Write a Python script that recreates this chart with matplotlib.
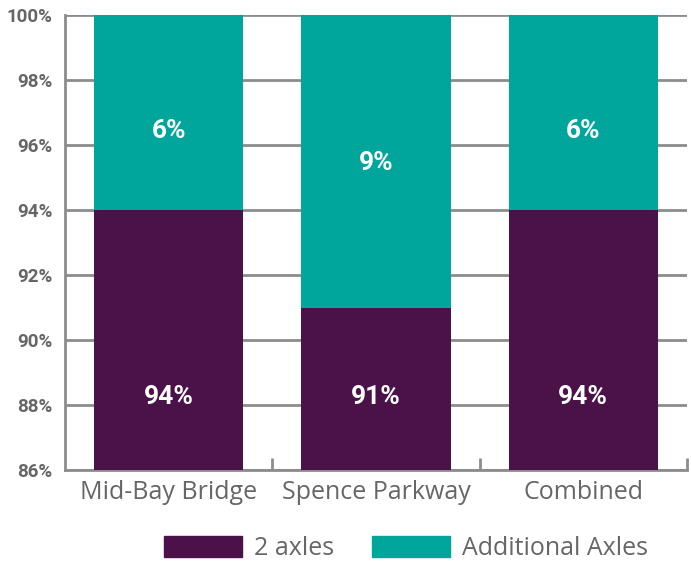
import matplotlib.pyplot as plt
from matplotlib.patches import Patch

categories = ["Mid-Bay Bridge", "Spence Parkway", "Combined"]
two_axles = [94, 91, 94]
additional_axles = [6, 9, 6]
y_ticks = [86, 88, 90, 92, 94, 96, 98, 100]

purple = "#4a1248"
teal = "#00a59b"
grey = "#8c8c8c"
label_grey = "#666666"
bold_font = ["Roboto", "DejaVu Sans"]

# where the value labels sit inside each segment
bottom_label_y = [88.25, 88.25, 88.25]
top_label_y = [96.45, 95.45, 96.45]

fig = plt.figure(figsize=(6.91, 5.61), dpi=100)
ax = fig.add_axes([0.094, 0.162, 0.9, 0.811])

x = range(len(categories))
ax.bar(x, two_axles, width=0.72, color=purple, zorder=3)
ax.bar(x, additional_axles, width=0.72, bottom=two_axles, color=teal, zorder=3)

for i in x:
    ax.text(i, bottom_label_y[i], f"{two_axles[i]}%", ha="center", va="center",
            color="white", fontsize=19, fontweight="bold", family=bold_font, zorder=4)
    ax.text(i, top_label_y[i], f"{additional_axles[i]}%", ha="center", va="center",
            color="white", fontsize=19, fontweight="bold", family=bold_font, zorder=4)

ax.set_ylim(86, 100)
ax.set_xlim(-0.5, 2.5)
ax.set_yticks(y_ticks)
ax.set_yticklabels([f"{v}%" for v in y_ticks], fontsize=13.5, fontweight="bold", color=label_grey,
                   family=bold_font)
ax.yaxis.grid(True, color=grey, linewidth=2, zorder=1)
ax.tick_params(axis="y", length=0, pad=9)

ax.set_xticks(list(x))
ax.set_xticklabels(categories, fontsize=18, color=label_grey, family="Open Sans")
ax.set_xticks([0.5, 1.5, 2.5], minor=True)
ax.tick_params(axis="x", which="major", length=0, pad=7)
ax.tick_params(axis="x", which="minor", direction="in", length=9, width=2, color=grey)

for side in ["top", "right"]:
    ax.spines[side].set_visible(False)
for side in ["left", "bottom"]:
    ax.spines[side].set_color(grey)
    ax.spines[side].set_linewidth(2)

handles = [Patch(color=purple, label="2 axles"), Patch(color=teal, label="Additional Axles")]
fig.legend(handles=handles, loc="lower center", bbox_to_anchor=(0.588, -0.04), ncol=2, frameon=False,
           handlelength=3.1, handleheight=0.9, columnspacing=1.5, handletextpad=0.5,
           prop={"family": "Open Sans", "size": 18}, labelcolor=label_grey)

fig.savefig("out.png", dpi=100)
